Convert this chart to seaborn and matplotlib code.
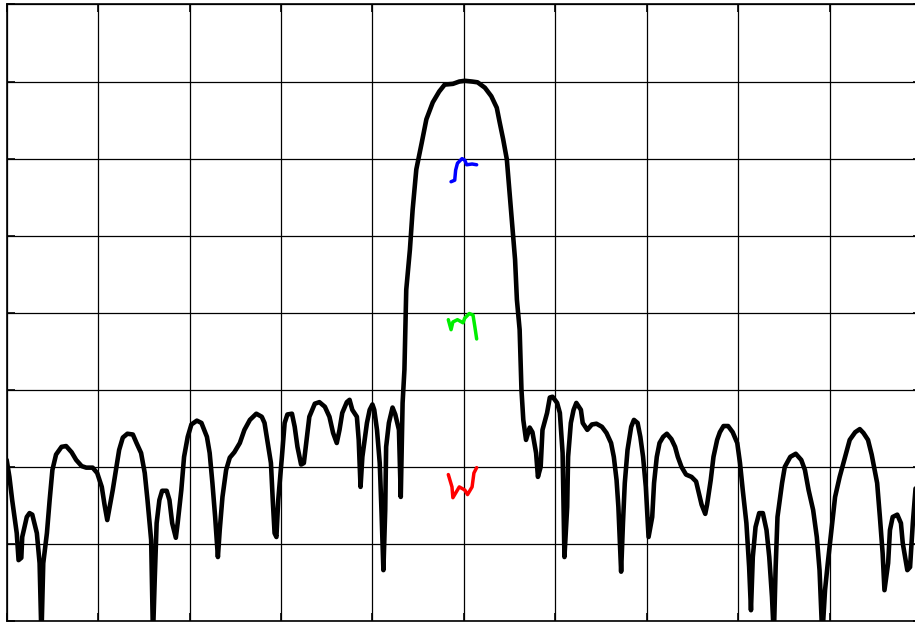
import numpy as np
import pandas as pd
import matplotlib
matplotlib.use("Agg")
import matplotlib.pyplot as plt
import seaborn as sns

# trace: frequency offset (MHz, 10 MHz/div), level (dB, 10 dB/div)
freq = [
    -50.0, -49.7, -49.4, -48.9, -48.7, -48.4, -48.3, -47.8, -47.5, -47.2,
    -46.7, -46.4, -46.2, -46.0, -45.6, -45.3, -45.0, -44.6, -44.0, -43.5,
    -42.9, -42.4, -41.8, -41.3, -40.6, -40.1, -39.6, -39.3, -39.0, -38.8,
    -38.4, -38.0, -37.7, -37.3, -36.8, -36.2, -35.8, -35.3, -34.9, -34.6,
    -34.2, -34.0, -33.8, -33.6, -33.3, -33.0, -32.5, -32.2, -31.9, -31.5,
    -31.3, -30.9, -30.6, -30.2, -29.8, -29.2, -28.7, -28.1, -27.8, -27.5,
    -27.2, -26.9, -26.7, -26.4, -26.0, -25.6, -25.1, -24.5, -24.0, -23.4,
    -22.7, -22.1, -21.8, -21.5, -21.1, -20.9, -20.7, -20.5, -20.3, -19.9,
    -19.6, -19.3, -18.8, -18.5, -18.2, -17.8, -17.5, -17.2, -16.9, -16.3,
    -15.8, -15.2, -14.7, -14.3, -13.9, -13.6, -13.3, -12.8, -12.5, -12.2,
    -11.7, -11.5, -11.3, -11.1, -10.6, -10.3, -10.0, -9.8, -9.5, -9.2,
    -9.0, -8.8, -8.6, -8.5, -8.2, -7.8, -7.5, -7.1, -6.9, -6.7,
    -6.5, -6.3, -5.9, -5.6, -5.2, -4.6, -4.1, -3.4, -2.7, -2.1,
    -1.2, -0.5, 0.1, 0.9, 1.5, 2.3, 3.0, 3.6, 3.9, 4.3,
    4.7, 5.0, 5.3, 5.6, 5.8, 6.1, 6.3, 6.5, 6.8, 7.2,
    7.5, 7.9, 8.1, 8.4, 8.6, 9.1, 9.4, 9.7, 10.2, 10.5,
    10.8, 11.0, 11.3, 11.4, 11.7, 12.0, 12.3, 12.8, 13.0, 13.5,
    14.0, 14.5, 15.1, 15.6, 16.1, 16.4, 16.7, 16.9, 17.2, 17.4,
    17.6, 17.9, 18.3, 18.6, 19.0, 19.3, 19.6, 19.9, 20.2, 20.6,
    20.8, 21.1, 21.4, 21.8, 22.2, 22.7, 23.1, 23.4, 23.8, 24.3,
    24.9, 25.4, 25.7, 26.0, 26.4, 26.6, 27.0, 27.3, 27.7, 28.0,
    28.4, 28.9, 29.4, 29.9, 30.2, 30.5, 30.9, 31.2, 31.4, 31.6,
    31.9, 32.3, 32.7, 33.1, 33.4, 33.7, 33.9, 34.1, 34.3, 34.8,
    35.1, 35.7, 36.3, 36.9, 37.3, 37.7, 38.2, 38.6, 38.9, 39.2,
    39.5, 39.8, 40.2, 40.6, 41.1, 41.7, 42.2, 42.8, 43.3, 43.7,
    44.2, 44.6, 45.2, 45.5, 45.8, 46.0, 46.4, 46.6, 46.9, 47.4,
    47.8, 48.0, 48.5, 48.8, 49.1, 49.4,
]
level = [
    -59.1, -61.3, -64.3, -68.6, -72.1, -71.8, -69.1, -66.5, -66.0, -66.2,
    -68.6, -72.5, -82.0, -72.5, -68.6, -64.3, -60.4, -58.4, -57.4, -57.3,
    -58.1, -59.1, -59.9, -60.1, -60.1, -60.8, -62.6, -64.9, -66.9, -65.6,
    -63.0, -60.0, -57.8, -56.2, -55.7, -55.8, -56.9, -58.2, -60.8, -64.3,
    -69.5, -82.0, -74.3, -67.3, -64.3, -63.1, -63.1, -64.3, -67.3, -69.2,
    -67.3, -63.0, -58.7, -56.1, -54.5, -54.0, -54.3, -56.1, -58.2, -62.1,
    -66.5, -71.7, -68.2, -63.9, -60.4, -58.8, -58.1, -56.9, -55.2, -53.9,
    -53.1, -53.5, -54.3, -56.5, -59.5, -64.3, -68.6, -69.1, -64.3, -58.7,
    -54.3, -53.2, -53.1, -54.8, -57.4, -59.7, -59.5, -56.5, -53.5, -51.8,
    -51.6, -52.2, -53.5, -55.6, -56.9, -55.2, -53.0, -51.6, -51.3, -52.6,
    -53.5, -56.5, -62.6, -58.7, -54.3, -52.6, -51.9, -52.6, -55.2, -59.5,
    -66.0, -73.4, -65.6, -57.4, -54.3, -52.3, -53.2, -55.2, -63.9, -51.7,
    -47.4, -37.0, -31.8, -26.6, -21.4, -17.9, -14.9, -12.7, -11.3, -10.4,
    -10.3, -10.0, -9.9, -10.0, -10.1, -10.8, -11.9, -13.4, -15.2, -17.5,
    -20.1, -24.4, -28.8, -33.1, -38.3, -42.2, -50.0, -53.9, -56.5, -54.9,
    -55.5, -58.2, -61.3, -60.0, -55.2, -53.0, -51.0, -50.9, -51.7, -53.0,
    -58.2, -71.7, -65.2, -58.7, -54.3, -52.6, -51.7, -52.6, -54.3, -55.2,
    -54.5, -54.4, -54.8, -55.6, -56.9, -58.7, -61.7, -65.2, -73.6, -67.3,
    -62.1, -57.8, -54.8, -53.9, -54.3, -56.1, -58.7, -62.6, -69.1, -66.5,
    -62.1, -58.7, -56.9, -56.1, -55.7, -56.4, -57.4, -58.7, -60.0, -61.0,
    -61.3, -61.9, -63.4, -64.9, -66.1, -64.9, -61.7, -58.7, -56.5, -55.5,
    -54.7, -54.7, -55.5, -56.9, -59.5, -63.0, -67.3, -73.0, -78.6, -71.7,
    -67.8, -66.0, -66.0, -68.2, -71.7, -76.9, -82.0, -73.0, -66.5, -62.1,
    -60.0, -58.7, -58.3, -59.1, -60.4, -63.0, -65.6, -69.1, -73.4, -82.0,
    -76.0, -72.5, -68.2, -63.9, -61.3, -58.7, -56.5, -55.5, -55.1, -55.6,
    -56.5, -58.4, -62.1, -66.5, -71.2, -76.0, -72.5, -68.2, -66.5, -66.2,
    -67.3, -69.9, -73.4, -73.0, -67.3, -62.8,
]

# small coloured marker traces near the centre
blue_f = [-1.4, -1.0, -0.9, -0.7, -0.2, 0.1, 0.3, 0.9, 1.4]
blue_l = [-23.0, -22.8, -21.5, -20.6, -20.0, -20.2, -20.8, -20.7, -20.8]
green_f = [-1.7, -1.4, -1.2, -0.7, -0.1, 0.1, 0.6, 1.0, 1.2, 1.4]
green_l = [-40.9, -42.2, -41.2, -40.9, -41.3, -40.7, -40.1, -40.3, -41.8, -43.4]
red_f = [-1.7, -1.3, -1.2, -0.8, -0.5, 0.1, 0.4, 0.9, 1.1, 1.4]
red_l = [-61.0, -62.6, -64.0, -63.2, -62.6, -63.0, -63.6, -62.6, -60.8, -60.1]

sns.set_style("white")

fig = plt.figure(figsize=(9.15, 6.22), dpi=100)
ax = fig.add_axes([0.0073, 0.0016, 0.9993, 0.9912])

trace = pd.DataFrame({"freq": freq, "level": level})
sns.lineplot(data=trace, x="freq", y="level", sort=False, estimator=None,
             color="black", linewidth=3.3, solid_joinstyle="round",
             solid_capstyle="round", ax=ax)

for f, l, c in [(blue_f, blue_l, "#0000ff"),
                (green_f, green_l, "#00ee00"),
                (red_f, red_l, "#ff0000")]:
    sns.lineplot(x=f, y=l, sort=False, estimator=None, color=c,
                 linewidth=2.5, solid_joinstyle="round",
                 solid_capstyle="round", ax=ax)

ax.set_xlim(-50, 50)
ax.set_ylim(-80, 0)
ax.set_xticks(np.arange(-50, 51, 10))
ax.set_yticks(np.arange(-80, 1, 10))
ax.grid(True, color="black", linewidth=0.9)
ax.set_axisbelow(True)
ax.tick_params(direction="in", length=5.5, width=1.2, color="black",
               top=True, right=True, bottom=True, left=True,
               labelleft=False, labelbottom=False)
for s in ax.spines.values():
    s.set_color("black")
    s.set_linewidth(1.2)
ax.set_xlabel("")
ax.set_ylabel("")

fig.savefig("out.png", dpi=100)
